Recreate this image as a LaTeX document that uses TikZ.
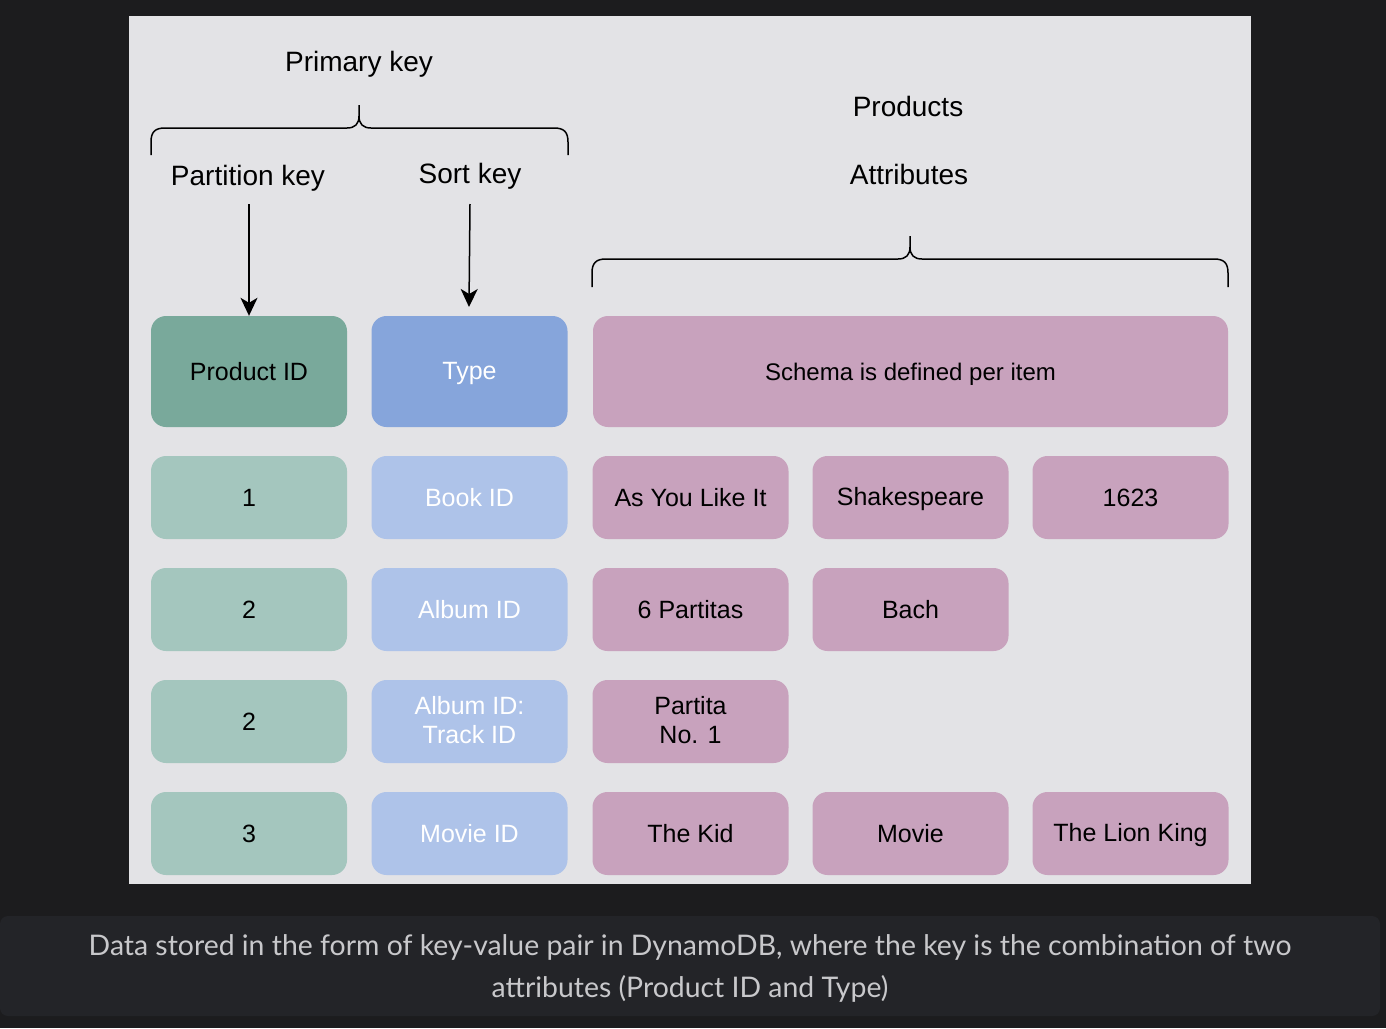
\documentclass[tikz,border=0pt]{standalone}
\usepackage{fontspec}
\setmainfont{Liberation Sans}
\newfontfamily\capfont{Lato}
\usetikzlibrary{arrows.meta}
\definecolor{bgdark}{HTML}{1C1C1E}
\definecolor{panel}{HTML}{E3E3E6}
\definecolor{capbox}{HTML}{232428}
\definecolor{captext}{HTML}{C8C8CB}
\definecolor{pidhead}{HTML}{79A99B}
\definecolor{typehead}{HTML}{86A5DB}
\definecolor{pinkbox}{HTML}{C8A2BD}
\definecolor{greenrow}{HTML}{A4C6BE}
\definecolor{bluerow}{HTML}{AEC3E9}
\newcommand{\cellstrut}{\rule{0pt}{22pt}}
\newcommand{\cellstrutb}{\rule[-4pt]{0pt}{4pt}}
\newcommand{\lblstrut}{\rule[-4pt]{0pt}{28pt}}
\begin{document}
\begin{tikzpicture}[x=1pt,y=-1pt,
  cell/.style={rectangle,rounded corners=15pt,minimum width=196pt,minimum height=83pt,inner sep=0pt,align=center,font=\fontsize{25}{29}\selectfont,
    execute at begin node=\cellstrut, execute at end node=\cellstrutb},
  headcell/.style={cell,minimum height=111pt},
  greencell/.style={cell,fill=greenrow,text=black},
  bluecell/.style={cell,fill=bluerow,text=white},
  pinkcell/.style={cell,fill=pinkbox,text=black},
  lbl/.style={font=\fontsize{28}{32}\selectfont,text=black,inner sep=0pt,execute at begin node=\lblstrut},
  bracepath/.style={draw=black,line width=1.5pt,line join=round},
  keyarrow/.style={draw=black,line width=1.5pt,-{Stealth[length=18pt,width=17pt,inset=5pt]}}
]
\useasboundingbox (0,0) rectangle (1386,1028);
\fill[bgdark] (0,0) rectangle (1386,1028);
\fill[panel] (129,16) rectangle (1251,884);
\fill[capbox,rounded corners=8pt] (0,916) rectangle (1380,1016);

% labels
\node[lbl] (primary) at (359,62) {Primary key};
\node[lbl] (partition) at (248,176) {Partition key};
\node[lbl] (sort) at (470,174) {Sort key};
\node[lbl] (products) at (908,106) {Products};
\node[lbl] (attributes) at (909,174) {Attributes};

% braces
\path[bracepath] (151,155) -- (151,142) .. controls (151,132) and (155,128) .. (165,128) -- (347,128) .. controls (355,128) and (359,124) .. (359,116) -- (359,105);
\path[bracepath] (359,116) .. controls (359,124) and (363,128) .. (371,128) -- (554,128) .. controls (564,128) and (568,132) .. (568,142) -- (568,155);
\path[bracepath] (592,287) -- (592,273) .. controls (592,263) and (596,259) .. (606,259) -- (898,259) .. controls (906,259) and (910,255) .. (910,247) -- (910,236);
\path[bracepath] (910,247) .. controls (910,255) and (914,259) .. (922,259) -- (1214,259) .. controls (1224,259) and (1228,263) .. (1228,273) -- (1228,287);

% header row
\node[headcell,fill=pidhead,text=black] (pid) at (249,371.5) {Product ID};
\node[headcell,fill=typehead,text=white] (type) at (469.5,371.5) {Type};
\node[headcell,fill=pinkbox,text=black,minimum width=635pt,font=\fontsize{24}{28}\selectfont] (schema) at (910.5,371.5) {Schema is defined per item};

% arrows
\coordinate (pstart) at (249,204);
\coordinate (sstart) at (470,204);
\coordinate (send) at (469,307);
\draw[keyarrow] (pstart) -- (pid.north);
\draw[keyarrow] (sstart) -- (send);

% rows
\node[greencell] (g1) at (249,497.5) {1};
\node[bluecell] (b1) at (469.5,497.5) {Book ID};
\node[pinkcell] (p11) at (690.5,497.5) {As You Like It};
\node[pinkcell] (p12) at (910.5,497.5) {Shakespeare};
\node[pinkcell] (p13) at (1130.5,497.5) {1623};

\node[greencell] (g2) at (249,609.5) {2};
\node[bluecell] (b2) at (469.5,609.5) {Album ID};
\node[pinkcell] (p21) at (690.5,609.5) {6 Partitas};
\node[pinkcell] (p22) at (910.5,609.5) {Bach};

\node[greencell] (g3) at (249,721.5) {2};
\node[bluecell] (b3) at (469.5,721.5) {Album ID:\\Track ID};
\node[pinkcell] (p31) at (690.5,721.5) {Partita\\No. 1};

\node[greencell] (g4) at (249,833.5) {3};
\node[bluecell] (b4) at (469.5,833.5) {Movie ID};
\node[pinkcell] (p41) at (690.5,833.5) {The Kid};
\node[pinkcell] (p42) at (910.5,833.5) {Movie};
\node[pinkcell] (p43) at (1130.5,833.5) {The Lion King};

% caption
\node[text=captext,font=\capfont\fontsize{28.4}{42}\selectfont,align=center,inner sep=0pt] (caption) at (690,968) {Data stored in the form of key-value pair in DynamoDB, where the key is the combination of two\\attributes (Product ID and Type)};
\end{tikzpicture}
\end{document}
